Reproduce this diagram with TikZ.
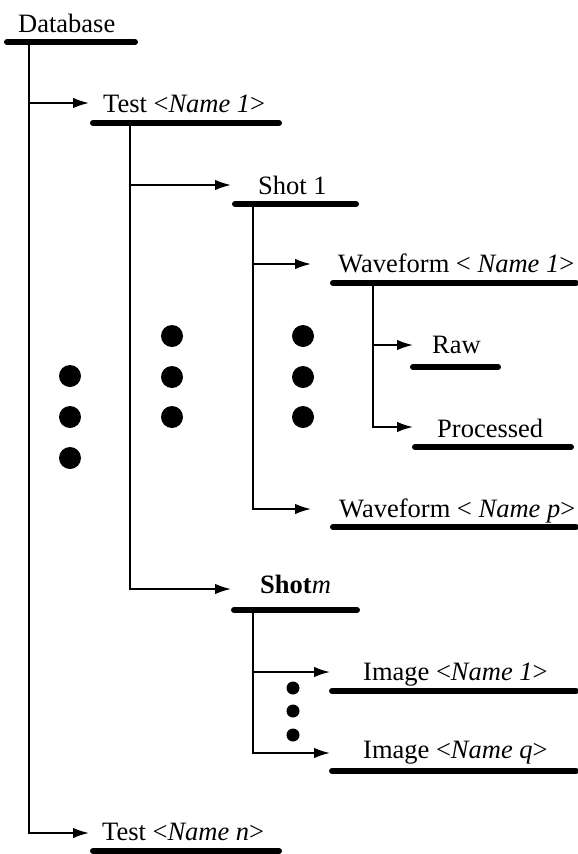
\documentclass[tikz,border=0pt]{standalone}
\usepackage{fontspec}
\setmainfont{Liberation Serif}
\usetikzlibrary{arrows.meta}
\begin{document}
\begin{tikzpicture}[x=1pt,y=-1pt,
  lbl/.style={anchor=base west, inner sep=0pt, font=\fontsize{26.5}{30}\selectfont},
  bar/.style={line width=6pt, line cap=round},
  link/.style={line width=1.7pt, -{Latex[length=16pt,width=10.5pt]}},
  bigdot/.style={circle, fill, inner sep=0pt, minimum size=22pt},
  smalldot/.style={circle, fill, inner sep=0pt, minimum size=13pt}]
\useasboundingbox (0,0) rectangle (578,854);

% ---- labels ----
\node[lbl] (db)   at (18,32)  {Database};
\node[lbl] (t1)   at (103,112) {Test <\textit{Name 1}>};
\node[lbl] (s1)   at (258,194) {Shot 1};
\node[lbl] (w1)   at (338,272) {Waveform < \textit{Name 1}>};
\node[lbl] (raw)  at (432,353) {Raw};
\node[lbl] (proc) at (437,437) {Processed};
\node[lbl] (wp)   at (339,517) {Waveform < \textit{Name p}>};
\node[lbl] (sm)   at (260,593) {\textbf{Shot}\textit{m}};
\node[lbl] (i1)   at (363,680) {Image <\textit{Name 1}>};
\node[lbl] (iq)   at (363,758) {Image <\textit{Name q}>};
\node[lbl] (tn)   at (102,840) {Test <\textit{Name n}>};

% ---- underline bars ----
\draw[bar] (7,42)   -- (135,42);
\draw[bar] (93,123) -- (279,123);
\draw[bar] (235,204) -- (356,204);
\draw[bar] (333,283) -- (576,283);
\draw[bar] (413,367) -- (498,367);
\draw[bar] (415,447) -- (571,447);
\draw[bar] (333,527) -- (576,527);
\draw[bar] (234,610) -- (357,610);
\draw[bar] (332,691) -- (576,691);
\draw[bar] (332,771) -- (576,771);
\draw[bar] (93,851) -- (279,851);

% ---- branch points on the bars and arrow tips ----
\coordinate (dbTop)   at (29,42);
\coordinate (t1Top)   at (130,123);
\coordinate (s1Top)   at (253,204);
\coordinate (w1Top)   at (373,283);
\coordinate (smTop)   at (253,610);
\coordinate (t1Tip)   at (89,103);
\coordinate (tnTip)   at (89,833);
\coordinate (s1Tip)   at (231,185);
\coordinate (smTip)   at (231,589);
\coordinate (w1Tip)   at (311,264);
\coordinate (wpTip)   at (311,509);
\coordinate (rawTip)  at (413,345);
\coordinate (procTip) at (413,427);
\coordinate (i1Tip)   at (330,672);
\coordinate (iqTip)   at (330,753);

% ---- connectors ----
\draw[link] (dbTop) |- (t1Tip);
\draw[link] (dbTop) |- (tnTip);
\draw[link] (t1Top) |- (s1Tip);
\draw[link] (t1Top) |- (smTip);
\draw[link] (s1Top) |- (w1Tip);
\draw[link] (s1Top) |- (wpTip);
\draw[link] (w1Top) |- (rawTip);
\draw[link] (w1Top) |- (procTip);
\draw[link] (smTop) |- (i1Tip);
\draw[link] (smTop) |- (iqTip);

% ---- ellipsis dots ----
\node[bigdot] (e1) at (70,376) {};
\node[bigdot] (e2) at (70,417) {};
\node[bigdot] (e3) at (70,458) {};
\node[bigdot] (f1) at (172,336) {};
\node[bigdot] (f2) at (172,377) {};
\node[bigdot] (f3) at (172,417) {};
\node[bigdot] (g1) at (303,336) {};
\node[bigdot] (g2) at (303,377) {};
\node[bigdot] (g3) at (303,417) {};
\node[smalldot] (h1) at (293,688) {};
\node[smalldot] (h2) at (293,711) {};
\node[smalldot] (h3) at (293,735) {};
\end{tikzpicture}
\end{document}
